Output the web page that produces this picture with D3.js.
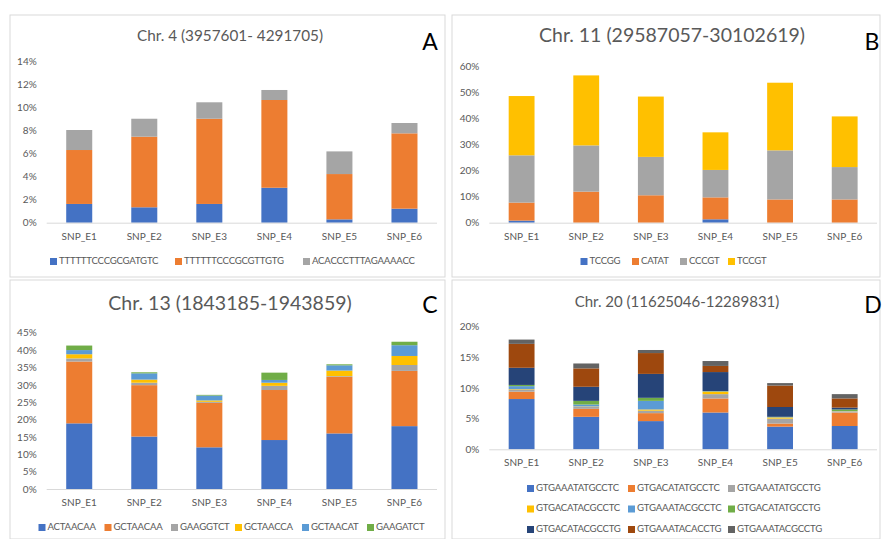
<!DOCTYPE html>
<html>
<head>
<meta charset="utf-8">
<script src="https://cdn.jsdelivr.net/npm/d3@7"></script>
<style>
  html, body { margin: 0; padding: 0; background: #ffffff; }
  svg { display: block; }
  text { font-family: Lato, "Liberation Sans", Arial, sans-serif; }
</style>
</head>
<body>
<svg id="chart" width="883" height="539"></svg>
<script>
// ---- data (percent values, one array per stacked series) ----
const categories = ["SNP_E1", "SNP_E2", "SNP_E3", "SNP_E4", "SNP_E5", "SNP_E6"];

// Chr. 4
const chr4Series = ["TTTTTTCCCGCGATGTC", "TTTTTTCCCGCGTTGTG", "ACACCCTTTAGAAAACC"];
const chr4_TTTTTTCCCGCGATGTC = [1.63, 1.34, 1.63, 3.04, 0.29, 1.22];
const chr4_TTTTTTCCCGCGTTGTG = [4.69, 6.14, 7.41, 7.63, 3.94, 6.55];
const chr4_ACACCCTTTAGAAAACC = [1.74, 1.56, 1.43, 0.87, 1.97, 0.90];
const chr4Ticks = [0, 2, 4, 6, 8, 10, 12, 14];

// Chr. 11
const chr11Series = ["TCCGG", "CATAT", "CCCGT", "TCCGT"];
const chr11_TCCGG = [0.8, 0.0, 0.0, 1.3, 0.0, 0.0];
const chr11_CATAT = [6.9, 11.9, 10.5, 8.4, 8.9, 8.9];
const chr11_CCCGT = [18.1, 17.7, 14.7, 10.5, 18.8, 12.4];
const chr11_TCCGT = [22.7, 26.8, 23.1, 14.4, 25.9, 19.4];
const chr11Ticks = [0, 10, 20, 30, 40, 50, 60];

// Chr. 13
const chr13Series = ["ACTAACAA", "GCTAACAA", "GAAGGTCT", "GCTAACCA", "GCTAACAT", "GAAGATCT"];
const chr13_ACTAACAA = [18.9, 15.1, 12.0, 14.1, 16.0, 18.1];
const chr13_GCTAACAA = [17.8, 14.8, 12.8, 14.4, 16.3, 15.9];
const chr13_GAAGGTCT = [0.9, 0.7, 0.3, 1.2, 0.2, 1.7];
const chr13_GCTAACCA = [1.2, 0.9, 0.4, 0.9, 1.6, 2.6];
const chr13_GCTAACAT = [1.2, 1.8, 1.4, 0.8, 1.5, 3.1];
const chr13_GAAGATCT = [1.3, 0.3, 0.2, 2.1, 0.3, 1.0];
const chr13Ticks = [0, 5, 10, 15, 20, 25, 30, 35, 40, 45];

// Chr. 20
const chr20Series = ["GTGAAATATGCCTC", "GTGACATATGCCTC", "GTGAAATATGCCTG",
                     "GTGACATACGCCTC", "GTGAAATACGCCTC", "GTGACATATGCCTG",
                     "GTGACATACGCCTG", "GTGAAATACACCTG", "GTGAAATACGCCTG"];
const chr20_GTGAAATATGCCTC = [8.2, 5.3, 4.6, 6.0, 3.7, 3.8];
const chr20_GTGACATATGCCTC = [1.2, 1.3, 1.3, 2.3, 0.5, 2.2];
const chr20_GTGAAATATGCCTG = [0.3, 0.35, 0.4, 0.7, 0.8, 0.15];
const chr20_GTGACATACGCCTC = [0.1, 0.05, 0.2, 0.4, 0.2, 0.05];
const chr20_GTGAAATACGCCTC = [0.5, 0.3, 1.4, 0.05, 0.05, 0.05];
const chr20_GTGACATATGCCTG = [0.2, 0.6, 0.5, 0.05, 0.05, 0.25];
const chr20_GTGACATACGCCTG = [2.8, 2.3, 3.9, 3.1, 1.6, 0.3];
const chr20_GTGAAATACACCTG = [3.9, 3.0, 3.4, 1.0, 3.5, 1.5];
const chr20_GTGAAATACGCCTG = [0.7, 0.8, 0.5, 0.8, 0.4, 0.7];
const chr20Ticks = [0, 5, 10, 15, 20];

const palette = ["#4472C4", "#ED7D31", "#A5A5A5", "#FFC000", "#5B9BD5",
                 "#70AD47", "#264478", "#9E480E", "#636363"];

// ---- panel definitions ----
const panels = [
  {
    title: "Chr. 4 (3957601- 4291705)", letter: "A",
    series: chr4Series,
    values: [chr4_TTTTTTCCCGCGATGTC, chr4_TTTTTTCCCGCGTTGTG, chr4_ACACCCTTTAGAAAACC],
    ticks: chr4Ticks,
    box: [10, 15, 445, 277],
    plot: { x0: 46.7, x1: 437, y0: 222.7, y1: 61.7 },
    titlePos: [230, 37], titleSize: 15.3, letterPos: [430, 44],
    legend: { rows: [[{ i: 0, x: 50 }, { i: 1, x: 175 }, { i: 2, x: 303 }]], y: [261.5] }
  },
  {
    title: "Chr. 11 (29587057-30102619)", letter: "B",
    series: chr11Series,
    values: [chr11_TCCGG, chr11_CATAT, chr11_CCCGT, chr11_TCCGT],
    ticks: chr11Ticks,
    box: [452, 15, 880, 277],
    plot: { x0: 489.3, x1: 877, y0: 222.7, y1: 66 },
    titlePos: [672, 37], titleSize: 19.5, letterPos: [872, 44],
    legend: { rows: [[{ i: 0, x: 580.5 }, { i: 1, x: 632 }, { i: 2, x: 680 }, { i: 3, x: 728 }]], y: [261.5] }
  },
  {
    title: "Chr. 13 (1843185-1943859)", letter: "C",
    series: chr13Series,
    values: [chr13_ACTAACAA, chr13_GCTAACAA, chr13_GAAGGTCT, chr13_GCTAACCA, chr13_GCTAACAT, chr13_GAAGATCT],
    ticks: chr13Ticks,
    box: [10, 280, 445, 539],
    plot: { x0: 46.7, x1: 437, y0: 489, y1: 332.7 },
    titlePos: [230, 305], titleSize: 19.5, letterPos: [430, 307],
    legend: { rows: [[{ i: 0, x: 38.5 }, { i: 1, x: 104.5 }, { i: 2, x: 171 }, { i: 3, x: 235 }, { i: 4, x: 302 }, { i: 5, x: 367 }]], y: [527.5] }
  },
  {
    title: "Chr. 20 (11625046-12289831)", letter: "D",
    series: chr20Series,
    values: [chr20_GTGAAATATGCCTC, chr20_GTGACATATGCCTC, chr20_GTGAAATATGCCTG,
             chr20_GTGACATACGCCTC, chr20_GTGAAATACGCCTC, chr20_GTGACATATGCCTG,
             chr20_GTGACATACGCCTG, chr20_GTGAAATACACCTG, chr20_GTGAAATACGCCTG],
    ticks: chr20Ticks,
    box: [452, 280, 880, 539],
    plot: { x0: 489.3, x1: 877, y0: 449.3, y1: 326.7 },
    titlePos: [677, 303.5], titleSize: 15, letterPos: [873, 307],
    legend: {
      rows: [
        [{ i: 0, x: 527 }, { i: 1, x: 628 }, { i: 2, x: 728 }],
        [{ i: 3, x: 527 }, { i: 4, x: 628 }, { i: 5, x: 728 }],
        [{ i: 6, x: 527 }, { i: 7, x: 628 }, { i: 8, x: 728 }]
      ],
      y: [488.5, 509, 529.5]
    }
  }
];

const svg = d3.select("#chart");

panels.forEach(p => {
  const g = svg.append("g");

  // panel frame
  g.append("rect")
    .attr("x", p.box[0]).attr("y", p.box[1])
    .attr("width", p.box[2] - p.box[0]).attr("height", p.box[3] - p.box[1])
    .attr("fill", "none").attr("stroke", "#d9d9d9").attr("stroke-width", 1);

  const x = d3.scaleBand()
    .domain(categories)
    .range([p.plot.x0, p.plot.x1])
    .paddingInner(0.6).paddingOuter(0.3);

  const yMax = p.ticks[p.ticks.length - 1];
  const y = d3.scaleLinear().domain([0, yMax]).range([p.plot.y0, p.plot.y1]);

  // stacked rows
  const rows = categories.map((c, ci) => {
    const r = { cat: c };
    p.series.forEach((s, si) => { r[s] = p.values[si][ci]; });
    return r;
  });
  const stacked = d3.stack().keys(p.series)(rows);

  // y axis labels
  const yAxis = d3.axisLeft(y).tickValues(p.ticks).tickFormat(d => d + "%").tickSize(0).tickPadding(10);
  const ya = g.append("g").attr("transform", `translate(${p.plot.x0},0)`).call(yAxis);
  ya.select(".domain").remove();
  ya.selectAll("text").attr("fill", "#595959").style("font-size", "10px")
    .style("font-family", "Lato, 'Liberation Sans', sans-serif");

  // bars
  stacked.forEach((layer, li) => {
    g.append("g").attr("fill", palette[li])
      .selectAll("rect").data(layer).join("rect")
      .attr("x", d => x(d.data.cat))
      .attr("width", x.bandwidth())
      .attr("y", d => y(d[1]))
      .attr("height", d => Math.max(0, y(d[0]) - y(d[1])));
  });

  // x axis
  const xAxis = d3.axisBottom(x).tickSize(0).tickPadding(10);
  const xa = g.append("g").attr("transform", `translate(0,${p.plot.y0})`).call(xAxis);
  xa.select(".domain").attr("stroke", "#d9d9d9").attr("d", `M${p.plot.x0},0.5H${p.plot.x1}`);
  xa.selectAll("text").attr("fill", "#595959").style("font-size", "10px")
    .style("font-family", "Lato, 'Liberation Sans', sans-serif");

  // title and panel letter
  g.append("text")
    .attr("x", p.titlePos[0]).attr("y", p.titlePos[1])
    .attr("text-anchor", "middle").attr("dominant-baseline", "middle")
    .attr("fill", "#595959").style("font-size", p.titleSize + "px")
    .text(p.title);
  g.append("text")
    .attr("x", p.letterPos[0]).attr("y", p.letterPos[1])
    .attr("text-anchor", "middle").attr("dominant-baseline", "middle")
    .attr("fill", "#000000").style("font-size", "23px")
    .text(p.letter);

  // legend
  p.legend.rows.forEach((row, ri) => {
    const ly = p.legend.y[ri];
    row.forEach(item => {
      g.append("rect")
        .attr("x", item.x).attr("y", ly - 3.5)
        .attr("width", 7).attr("height", 7)
        .attr("fill", palette[item.i]);
      g.append("text")
        .attr("x", item.x + 9).attr("y", ly)
        .attr("dominant-baseline", "middle")
        .attr("fill", "#595959").style("font-size", "9.6px")
        .style("letter-spacing", "-0.2px")
        .text(p.series[item.i]);
    });
  });
});
</script>
</body>
</html>
